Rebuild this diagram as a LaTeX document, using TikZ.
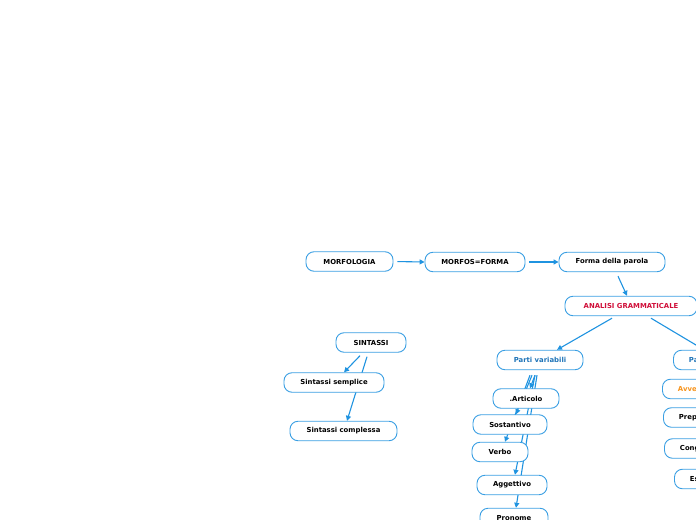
\documentclass[tikz,border=0pt]{standalone}
\usepackage{fontspec}
\setmainfont{DejaVu Sans}
\usetikzlibrary{arrows.meta,backgrounds}
\definecolor{bord}{HTML}{3A9FE3}
\definecolor{arrc}{HTML}{1F93E0}
\definecolor{redt}{HTML}{D0103A}
\definecolor{bluet}{HTML}{1F74B8}
\definecolor{orat}{HTML}{F7941D}
\tikzset{
  box/.style={draw=bord, line width=0.9bp, rounded corners=8bp, fill=white,
    inner xsep=2bp, inner ysep=0bp, minimum height=19.5bp,
    font=\fontsize{6.9}{7.5}\selectfont\bfseries, text=black},
  rbox/.style={box, inner xsep=15.5bp, anchor=west},
  arr/.style={draw=arrc, line width=1.1bp, -{Triangle[length=5bp,width=5bp]}}
}
\begin{document}
\begin{tikzpicture}[x=1bp,y=-1bp]
\useasboundingbox (0,0) rectangle (696,520);
\clip (0,0) rectangle (696,520);
\node[box, minimum width=87bp] (morf) at (349.5,261.5) {MORFOLOGIA};
\node[box, minimum width=100bp] (morfos) at (475,262) {MORFOS=FORMA};
\node[box, minimum width=106bp] (forma) at (612,262) {Forma della parola};
\node[box, minimum width=132bp, text=redt] (analisi) at (631,306) {ANALISI GRAMMATICALE};
\node[box, minimum width=86bp, text=bluet] (pv) at (540,360) {Parti variabili};
\node[rbox, text=bluet] (pinv) at (673,360) {Parti invariabili};
\node[rbox, text=orat] (avv) at (662,389) {Avverbio};
\node[rbox] (prep) at (663,417.5) {Preposizione};
\node[rbox] (cong) at (664,448.5) {Congiunzione};
\node[rbox] (escl) at (674,479) {Esclamazione};
\node[box, minimum width=66bp] (art) at (526,398.5) {.Articolo};
\node[box, minimum width=74bp] (sost) at (510,424.5) {Sostantivo};
\node[box, minimum width=56bp] (verbo) at (500,452) {Verbo};
\node[box, minimum width=70bp] (agg) at (512,485) {Aggettivo};
\node[box, minimum width=68bp] (pron) at (514,518) {Pronome};
\node[box, minimum width=70bp] (sint) at (371,342.5) {SINTASSI};
\node[box, minimum width=100bp] (ss) at (334,382.5) {Sintassi semplice};
\node[box, minimum width=107bp] (sc) at (343.5,431) {Sintassi complessa};
\begin{scope}[on background layer]
\draw[arr, shorten <=4bp] (morf.east) -- (morfos.west);
\draw[arr, shorten <=4bp] (morfos.east) -- (forma.west);
\draw[arr] ([xshift=6bp,yshift=-4bp]forma.south) -- ([xshift=-4bp]analisi.north);
\draw[arr] ([xshift=-19bp,yshift=-2bp]analisi.south) -- ([xshift=17bp]pv.north);
\draw[arr] ([xshift=20bp,yshift=-2bp]analisi.south) -- ([xshift=704bp-673bp]pinv.north west);
\draw[arr] ([xshift=-5bp,yshift=-5bp]pv.south) -- ([xshift=4bp]art.north);
\draw[arr] ([xshift=-8bp,yshift=-5bp]pv.south) -- ([xshift=6bp]sost.north);
\draw[arr] ([xshift=-10bp,yshift=-5bp]pv.south) -- ([xshift=5bp]verbo.north);
\draw[arr] ([xshift=-5bp,yshift=-5bp]pv.south) -- ([xshift=3bp]agg.north);
\draw[arr] ([xshift=-3bp,yshift=-5bp]pv.south) -- ([xshift=2bp]pron.north);
\draw[arr] ([xshift=-11bp,yshift=-3bp]sint.south) -- ([xshift=10bp]ss.north);
\draw[arr] ([xshift=-4bp,yshift=-4bp]sint.south) -- ([xshift=3.5bp]sc.north);
\end{scope}
\end{tikzpicture}
\end{document}
